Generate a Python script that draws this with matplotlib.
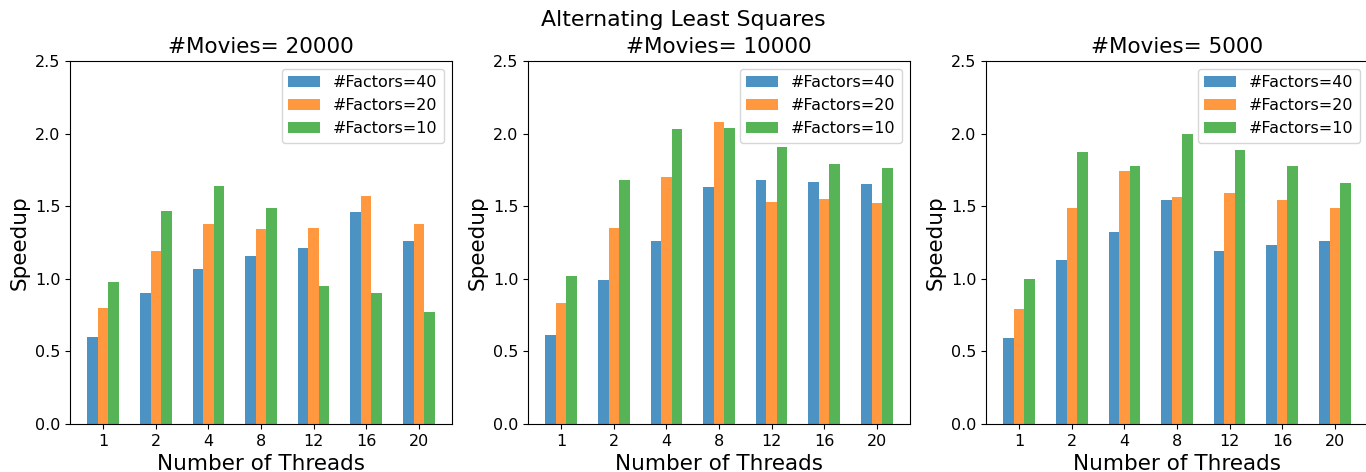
import matplotlib
matplotlib.use("Agg")
import matplotlib.pyplot as plt
import numpy as np

threads = ["1", "2", "4", "8", "12", "16", "20"]
movies = [20000, 10000, 5000]
series_labels = ["#Factors=40", "#Factors=20", "#Factors=10"]

# speedup values per panel: [factors40, factors20, factors10]
speedup_20000_f40 = [0.60, 0.90, 1.07, 1.16, 1.21, 1.46, 1.26]
speedup_20000_f20 = [0.80, 1.19, 1.38, 1.34, 1.35, 1.57, 1.38]
speedup_20000_f10 = [0.98, 1.47, 1.64, 1.49, 0.95, 0.90, 0.77]

speedup_10000_f40 = [0.61, 0.99, 1.26, 1.63, 1.68, 1.67, 1.65]
speedup_10000_f20 = [0.83, 1.35, 1.70, 2.08, 1.53, 1.55, 1.52]
speedup_10000_f10 = [1.02, 1.68, 2.03, 2.04, 1.91, 1.79, 1.76]

speedup_5000_f40 = [0.59, 1.13, 1.32, 1.54, 1.19, 1.23, 1.26]
speedup_5000_f20 = [0.79, 1.49, 1.74, 1.56, 1.59, 1.54, 1.49]
speedup_5000_f10 = [1.00, 1.87, 1.78, 2.00, 1.89, 1.78, 1.66]

panels = [
    (speedup_20000_f40, speedup_20000_f20, speedup_20000_f10),
    (speedup_10000_f40, speedup_10000_f20, speedup_10000_f10),
    (speedup_5000_f40, speedup_5000_f20, speedup_5000_f10),
]

colors = ["#1f77b4", "#ff7f0e", "#2ca02c"]

fig = plt.figure(figsize=(13.66, 4.72), dpi=100)
lefts = [70 / 1366, 528 / 1366, 986 / 1366]
w = 382 / 1366
b = (472 - 424) / 472
h = 363 / 472

x = np.arange(len(threads))
bw = 0.2
for i, (left, data) in enumerate(zip(lefts, panels)):
    ax = fig.add_axes([left, b, w, h])
    for j, vals in enumerate(data):
        ax.bar(x + (j - 1) * bw, vals, bw, color=colors[j], alpha=0.8,
               label=series_labels[j])
    ax.set_xticks(x)
    ax.set_xticklabels(threads)
    ax.set_ylim(0, 2.5)
    ax.set_yticks([0.0, 0.5, 1.0, 1.5, 2.0, 2.5])
    ax.tick_params(labelsize=11.5)
    ax.set_title("#Movies= %d" % movies[i], fontsize=15.5)
    ax.set_xlabel("Number of Threads", fontsize=15.5)
    ax.set_ylabel("Speedup", fontsize=15.5)
    ax.legend(loc="upper right", fontsize=11.5)

fig.suptitle("Alternating Least Squares", fontsize=15.8, y=0.978)
fig.savefig("out.png", dpi=100)
